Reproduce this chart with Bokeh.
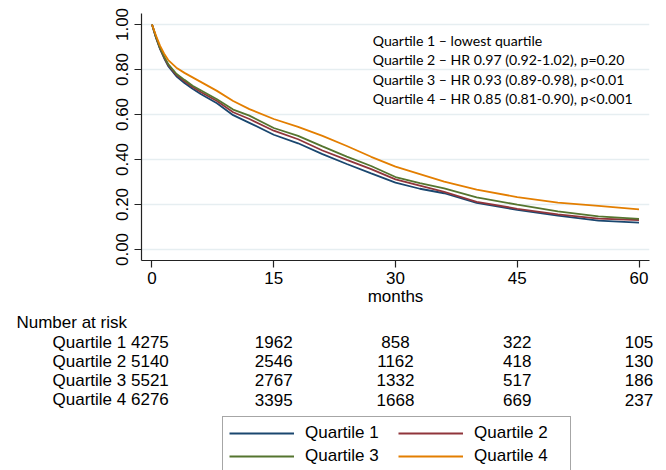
from bokeh.plotting import figure
from bokeh.layouts import column
from bokeh.core.properties import value
from bokeh.models import (Label, LabelSet, ColumnDataSource, Legend, LegendItem,
                          FixedTicker, NumeralTickFormatter, Range1d)
from bokeh.embed import file_html
from bokeh.resources import INLINE

# ---- data -----------------------------------------------------------------
months = [0, 0.5, 1, 1.5, 2, 3, 4, 5, 6, 8, 10, 12, 15, 18, 21, 24, 27, 30, 33, 36, 40, 45, 50, 55, 60]
q1 = [1.0, 0.940, 0.890, 0.850, 0.815, 0.770, 0.740, 0.714, 0.691, 0.650, 0.597, 0.563, 0.510,
      0.472, 0.424, 0.380, 0.338, 0.297, 0.270, 0.250, 0.207, 0.176, 0.151, 0.128, 0.119]
q2 = [1.0, 0.942, 0.893, 0.854, 0.820, 0.776, 0.748, 0.722, 0.700, 0.660, 0.610, 0.580, 0.528,
      0.490, 0.440, 0.398, 0.357, 0.312, 0.284, 0.256, 0.212, 0.181, 0.156, 0.137, 0.131]
q3 = [1.0, 0.944, 0.895, 0.857, 0.824, 0.781, 0.754, 0.728, 0.708, 0.668, 0.622, 0.595, 0.540,
      0.505, 0.458, 0.413, 0.371, 0.322, 0.295, 0.272, 0.232, 0.199, 0.169, 0.147, 0.136]
q4 = [1.0, 0.950, 0.905, 0.870, 0.842, 0.808, 0.785, 0.765, 0.745, 0.705, 0.660, 0.624, 0.580,
      0.545, 0.505, 0.460, 0.412, 0.368, 0.335, 0.302, 0.266, 0.233, 0.208, 0.194, 0.178]

series_names = ["Quartile 1", "Quartile 2", "Quartile 3", "Quartile 4"]
series_colors = ["#1a476f", "#90353b", "#55752f", "#e37e00"]

hr_lines = ["Quartile 1 \u2013 lowest quartile",
            "Quartile 2 \u2013 HR 0.97 (0.92-1.02), p=0.20",
            "Quartile 3 \u2013 HR 0.93 (0.89-0.98), p<0.01",
            "Quartile 4 \u2013 HR 0.85 (0.81-0.90), p<0.001"]

risk_times = [0, 15, 30, 45, 60]
risk_q1 = [4275, 1962, 858, 322, 105]
risk_q2 = [5140, 2546, 1162, 418, 130]
risk_q3 = [5521, 2767, 1332, 517, 186]
risk_q4 = [6276, 3395, 1668, 669, 237]

x_ticks = [0, 15, 30, 45, 60]
y_ticks = [0.0, 0.2, 0.4, 0.6, 0.8, 1.0]

FONT = "Liberation Sans"
W = 666
H1 = 312
H2 = 158
PX_PER_MONTH = 8.117
X0_PX = 151.5          # page x of month 0

# ---- main KM figure -------------------------------------------------------
p = figure(width=W, height=H1, output_backend="svg", toolbar_location=None,
           x_range=Range1d(-(X0_PX - 141) / PX_PER_MONTH, 60 + (649 - 638.5) / PX_PER_MONTH),
           y_range=Range1d(-0.0489, 1.0489),
           min_border_left=141, min_border_right=W - 649, min_border_top=13,
           min_border_bottom=H1 - 260)
p.frame_align = False
p.outline_line_color = None
p.background_fill_color = "white"
p.border_fill_color = "white"

p.xgrid.visible = False
p.ygrid.grid_line_color = "#e6eef1"
p.ygrid.grid_line_width = 1.6
p.ygrid.ticker = FixedTicker(ticks=y_ticks)

for ax in (p.xaxis[0], p.yaxis[0]):
    ax.axis_line_color = "#222222"
    ax.axis_line_width = 1.2
    ax.major_tick_line_color = "#222222"
    ax.major_tick_line_width = 1.2
    ax.major_tick_out = 7
    ax.major_tick_in = 0
    ax.minor_tick_line_color = None
    ax.major_label_text_font = FONT
    ax.major_label_text_font_size = "17px"
    ax.major_label_text_color = "black"

p.xaxis.ticker = FixedTicker(ticks=x_ticks)
p.xaxis.major_label_standoff = 4
p.xaxis.axis_label = "months"
p.xaxis.axis_label_text_font = FONT
p.xaxis.axis_label_text_font_size = "17px"
p.xaxis.axis_label_text_font_style = "normal"
p.xaxis.axis_label_text_color = "black"
p.xaxis.axis_label_standoff = 0

p.yaxis.ticker = FixedTicker(ticks=y_ticks)
p.yaxis.formatter = NumeralTickFormatter(format="0.00")
p.yaxis.major_label_orientation = "vertical"
p.yaxis.major_label_standoff = 6

for ys, col in zip([q1, q2, q3, q4], series_colors):
    p.line(months, ys, line_color=col, line_width=1.8)

# HR annotation
hr_x = 27.2
hr_y0 = 0.929
hr_step = 0.0865
for i, t in enumerate(hr_lines):
    p.add_layout(Label(x=hr_x, y=hr_y0 - i * hr_step, text=t, text_font="Lato",
                       text_font_size="14.1px", text_color="black", text_baseline="middle"))

# ---- number at risk + legend panel -----------------------------------------
q = figure(width=W, height=H2, output_backend="svg", toolbar_location=None,
           x_range=Range1d(-X0_PX / PX_PER_MONTH, (W - X0_PX) / PX_PER_MONTH),
           y_range=Range1d(H2, 0), x_axis_type=None, y_axis_type=None,
           min_border_left=0, min_border_right=0, min_border_top=0, min_border_bottom=0)
q.frame_align = False
q.outline_line_color = None
q.grid.visible = False
q.background_fill_color = "white"
q.border_fill_color = "white"
q.extra_y_ranges = {"offscreen": Range1d(10, 11)}

q.add_layout(Label(x=-16.7, y=321.7 - H1, text="Number at risk", text_font=FONT,
                   text_font_size="17px", text_color="black", text_baseline="middle"))
row_y0 = 341.5 - H1
row_step = 19.2
risk_rows = [risk_q1, risk_q2, risk_q3, risk_q4]
lab_x, lab_y, lab_t = [], [], []
num_x, num_y, num_t = [], [], []
for i, (name, row) in enumerate(zip(series_names, risk_rows)):
    y = row_y0 + i * row_step
    lab_x.append(2.07)
    lab_y.append(y)
    lab_t.append(f"{name} {row[0]}")
    for t, n in zip(risk_times[1:], row[1:]):
        num_x.append(t)
        num_y.append(y)
        num_t.append(str(n))
q.add_layout(LabelSet(source=ColumnDataSource(dict(x=lab_x, y=lab_y, t=lab_t)), x="x", y="y",
                      text="t", text_font=value(FONT), text_font_size=value("17px"),
                      text_color="black", text_align="right", text_baseline="middle"))
q.add_layout(LabelSet(source=ColumnDataSource(dict(x=num_x, y=num_y, t=num_t)), x="x", y="y",
                      text="t", text_font=value(FONT), text_font_size=value("17px"),
                      text_color="black", text_align="center", text_baseline="middle"))

# legend swatches: same series, drawn on an off-screen range so only the legend shows them
legend_renderers = [q.line(months, ys, line_color=c, line_width=1.8, y_range_name="offscreen")
                    for ys, c in zip([q1, q2, q3, q4], series_colors)]
legend = Legend(items=[LegendItem(label=n, renderers=[r]) for n, r in zip(series_names, legend_renderers)],
                ncols=2, location=(222, -3), orientation="horizontal")
legend.label_text_font = FONT
legend.label_text_font_size = "17px"
legend.label_text_color = "black"
legend.glyph_width = 65
legend.glyph_height = 20
legend.label_height = 20
legend.label_standoff = 11
legend.label_width = 90
legend.spacing = 3
legend.padding = 6
legend.margin = 0
legend.border_line_color = "#4d4d4d"
legend.border_line_width = 1.5
legend.background_fill_color = "white"
legend.background_fill_alpha = 1.0
q.add_layout(legend, "center")

layout = column(p, q, spacing=0)
open("out.html", "w").write(file_html(layout, INLINE))
